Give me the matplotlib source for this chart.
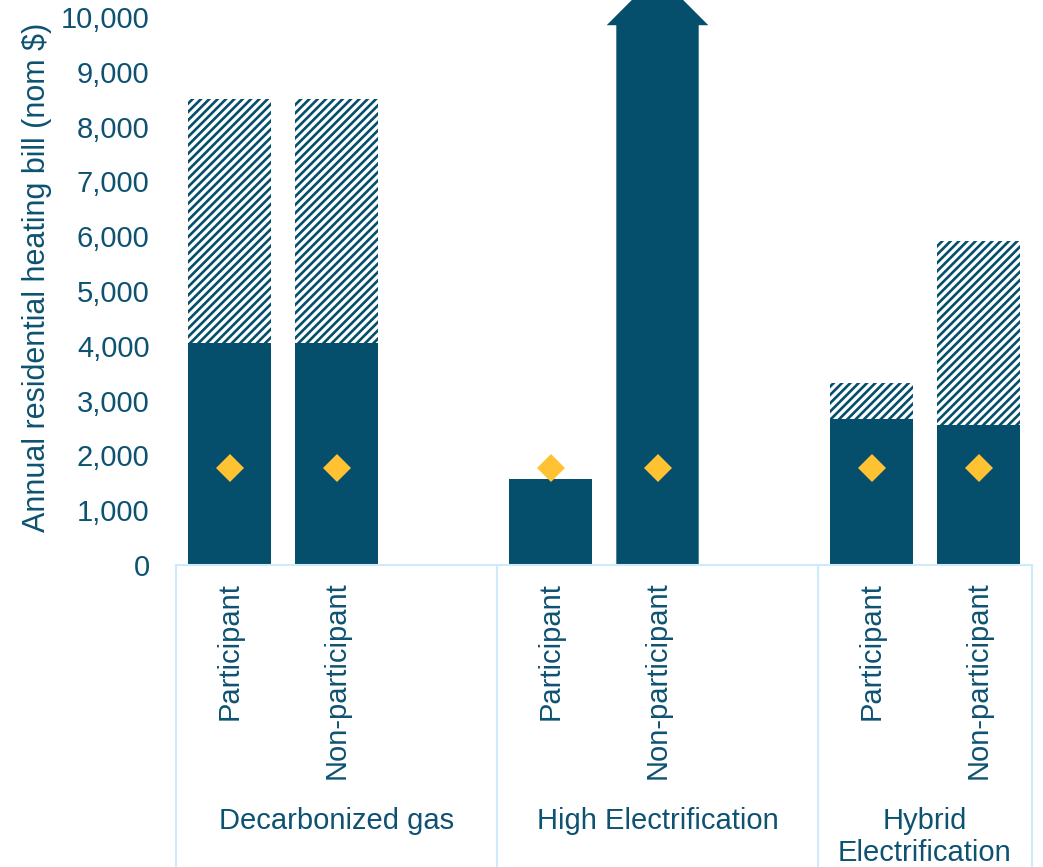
import matplotlib
matplotlib.use("Agg")
import matplotlib.pyplot as plt
import matplotlib.transforms as mtransforms
from matplotlib.lines import Line2D
from matplotlib.patches import Polygon
import numpy as np

# ---- data ----
groups = ["Decarbonized gas", "High Electrification", "Hybrid\nElectrification"]
tick_labels = ["Participant", "Non-participant"] * 3
base_bill = [4050, 4050, 1570, 9850, 2660, 2550]      # solid portion
total_bill = [8500, 8500, 1570, 9850, 3320, 5910]     # top of hatched portion
marker_values = [1770, 1770, 1770, 1770, 1770, 1770]  # diamond markers
off_scale = [False, False, False, True, False, False]  # bars that run past the axis
y_ticks = [0, 1000, 2000, 3000, 4000, 5000, 6000, 7000, 8000, 9000, 10000]

# ---- style ----
DARK = "#054F6D"
GOLD = "#FFC233"
TEXT = "#0E5272"
FRAME = "#CDEBFA"
FS = 21
plt.rcParams["font.family"] = ["Liberation Sans", "DejaVu Sans"]
plt.rcParams["hatch.linewidth"] = 1.9
plt.rcParams["hatch.color"] = DARK

fig = plt.figure(figsize=(10.43, 8.67), dpi=100)
ax = fig.add_axes([176 / 1043, 1 - 565 / 867, (1032 - 176) / 1043, (565 - 17) / 867])

# three slots per group, last group has no trailing gap
x = np.array([0, 1, 3, 4, 6, 7])
width = 0.77

for xi, b, t, off in zip(x, base_bill, total_bill, off_scale):
    if off:
        # bar continues beyond the axis: draw it as an upward arrow
        half = width / 2
        head_half = 0.475
        head_len = 930
        pts = [(xi - half, 0), (xi - half, b), (xi - head_half, b),
               (xi, b + head_len), (xi + head_half, b), (xi + half, b), (xi + half, 0)]
        ax.add_patch(Polygon(pts, closed=True, facecolor=DARK, edgecolor="none",
                             clip_on=False, zorder=2))
    else:
        ax.bar(xi, b, width=width, color=DARK, linewidth=0, zorder=2)
        if t > b:
            ax.bar(xi, t - b, bottom=b, width=width, facecolor="white",
                   edgecolor=DARK, hatch="////", linewidth=0, zorder=2)

ax.plot(x, marker_values, linestyle="none", marker="D", markersize=14,
        color=GOLD, markeredgewidth=0, zorder=3)

ax.set_xlim(-0.5, 7.5)
ax.set_ylim(0, 10000)
ax.set_yticks(y_ticks)
ax.set_yticklabels([f"{v:,}" for v in y_ticks])
ax.set_xticks(x)
ax.set_xticklabels(tick_labels, rotation=90, va="top")
ax.tick_params(axis="both", length=0, labelsize=FS, labelcolor=TEXT)
ax.tick_params(axis="y", pad=19)
ax.tick_params(axis="x", pad=12)
for side in ["top", "right", "left"]:
    ax.spines[side].set_visible(False)
ax.spines["bottom"].set_color(FRAME)
ax.spines["bottom"].set_linewidth(1.5)

ax.set_ylabel("Annual residential heating bill (nom $)", fontsize=22, color=TEXT,
              va="center")
ax.yaxis.set_label_coords(-0.162, 0.525)

# group dividers running from the axis down to the bottom edge
trans = ax.get_xaxis_transform()
for bx in [-0.5, 2.5, 5.5, 7.5]:
    ax.add_line(Line2D([bx, bx], [0, -1], transform=trans, color=FRAME,
                       linewidth=1.5, clip_on=False))

group_centers = [1.0, 4.0, 6.5]
label_trans = mtransforms.blended_transform_factory(ax.transData, fig.transFigure)
for gx, name in zip(group_centers, groups):
    ax.text(gx, 1 - 807 / 867, name, transform=label_trans,
            ha="center", va="top", fontsize=FS, color=TEXT, linespacing=1.2)

fig.savefig("out.png", dpi=100)
